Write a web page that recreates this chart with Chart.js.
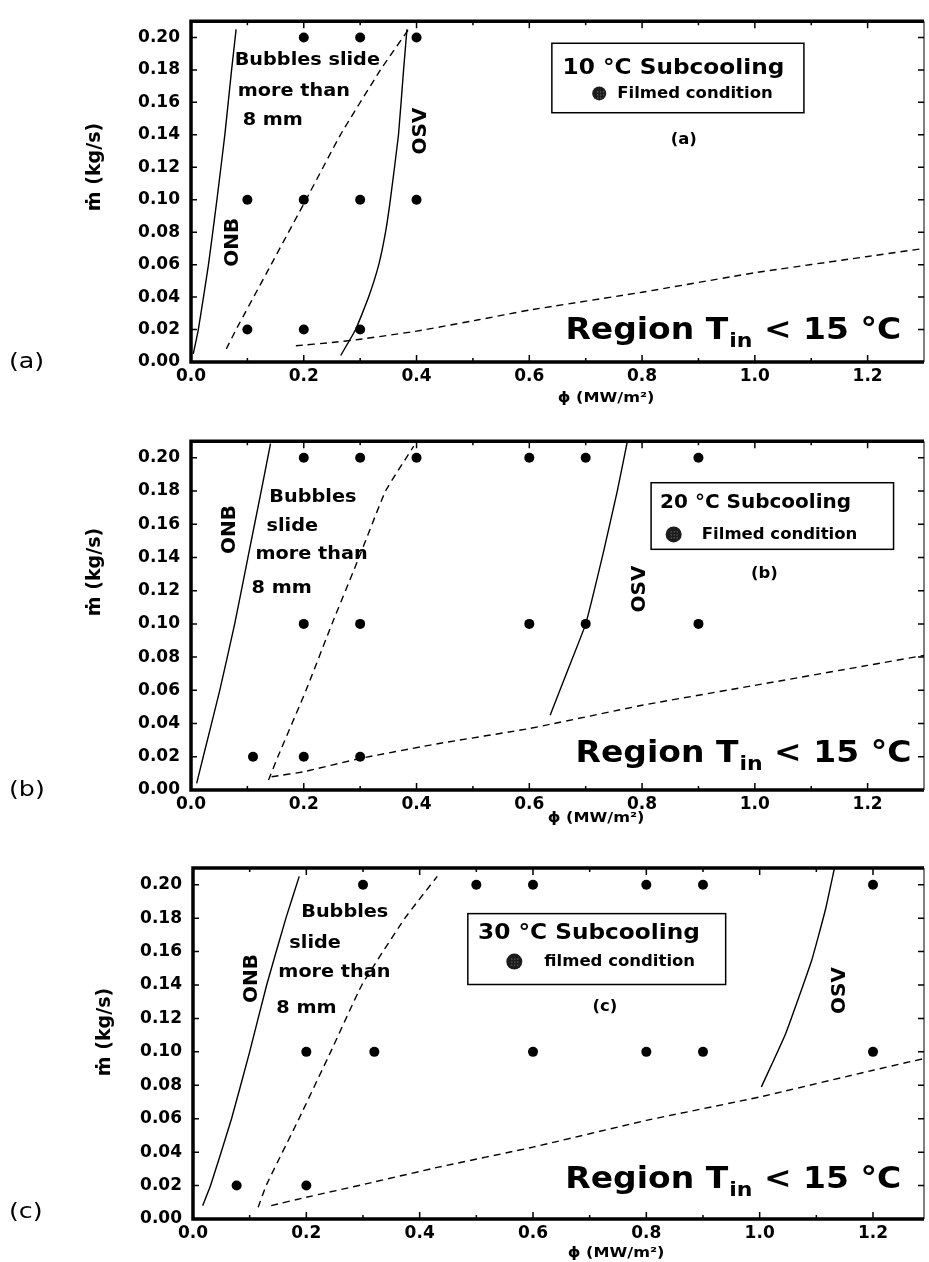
<!DOCTYPE html>
<html><head><meta charset="utf-8">
<script src="https://cdn.jsdelivr.net/npm/chart.js@4.4.1/dist/chart.umd.min.js"></script>
<style>
html,body{margin:0;padding:0;background:#fff;}
#page{position:relative;width:929px;height:1262px;overflow:hidden;background:#fff;}
.panel{position:absolute;left:0;width:929px;}
canvas{display:block;}
</style></head><body>
<div id="page">
<div class="panel" style="top:0;height:420px"><canvas id="chartA" width="929" height="420"></canvas></div>
<div class="panel" style="top:420px;height:420px"><canvas id="chartB" width="929" height="420"></canvas></div>
<div class="panel" style="top:840px;height:422px"><canvas id="chartC" width="929" height="422"></canvas></div>
</div>
<script>
// ---- tick labels ----
const xTickValues = [0.0, 0.2, 0.4, 0.6, 0.8, 1.0, 1.2];
const xMinorTickValues = [0.1, 0.3, 0.5, 0.7, 0.9, 1.1];
const yTickValues = [0.00, 0.02, 0.04, 0.06, 0.08, 0.10, 0.12, 0.14, 0.16, 0.18, 0.20];

// ---- panel (a): 10 °C subcooling ----
const aFilmedPhi = [0.2, 0.3, 0.4, 0.1, 0.2, 0.3, 0.4, 0.1, 0.2, 0.3];
const aFilmedM   = [0.20, 0.20, 0.20, 0.10, 0.10, 0.10, 0.10, 0.02, 0.02, 0.02];
const aOnbPhi    = [0.004, 0.013, 0.031, 0.046, 0.060, 0.072, 0.080];
const aOnbM      = [0.005, 0.020, 0.060, 0.100, 0.140, 0.180, 0.205];
const aSlidePhi  = [0.0625, 0.080, 0.142, 0.204, 0.265, 0.336, 0.386];
const aSlideM    = [0.008, 0.020, 0.060, 0.100, 0.140, 0.180, 0.205];
const aOsvPhi    = [0.2655, 0.292, 0.315, 0.333, 0.345, 0.3536, 0.368, 0.377, 0.383];
const aOsvM      = [0.004, 0.020, 0.040, 0.060, 0.080, 0.100, 0.140, 0.180, 0.205];
const aRegionPhi = [0.186, 0.25, 0.30, 0.40, 0.51, 0.6, 0.8, 1.0, 1.2, 1.3];
const aRegionM   = [0.010, 0.012, 0.014, 0.019, 0.026, 0.032, 0.043, 0.055, 0.065, 0.070];

// ---- panel (b): 20 °C subcooling ----
const bFilmedPhi = [0.2, 0.3, 0.4, 0.6, 0.7, 0.9, 0.2, 0.3, 0.6, 0.7, 0.9, 0.11, 0.2, 0.3];
const bFilmedM   = [0.20, 0.20, 0.20, 0.20, 0.20, 0.20, 0.10, 0.10, 0.10, 0.10, 0.10, 0.02, 0.02, 0.02];
const bOnbPhi    = [0.010, 0.0217, 0.051, 0.0775, 0.101, 0.1245, 0.141];
const bOnbM      = [0.004, 0.020, 0.060, 0.100, 0.140, 0.180, 0.2085];
const bSlidePhi  = [0.1375, 0.154, 0.204, 0.250, 0.298, 0.345, 0.395];
const bSlideM    = [0.006, 0.020, 0.060, 0.100, 0.140, 0.180, 0.207];
const bOsvPhi    = [0.637, 0.668, 0.700, 0.732, 0.756, 0.774];
const bOsvM      = [0.045, 0.072, 0.100, 0.144, 0.180, 0.210];
const bRegionPhi = [0.143, 0.2, 0.3, 0.44, 0.6, 0.8, 1.0, 1.2, 1.3];
const bRegionM   = [0.008, 0.011, 0.019, 0.028, 0.037, 0.051, 0.063, 0.075, 0.081];

// ---- panel (c): 30 °C subcooling ----
const cFilmedPhi = [0.3, 0.5, 0.6, 0.8, 0.9, 1.2, 0.2, 0.32, 0.6, 0.8, 0.9, 1.2, 0.077, 0.2];
const cFilmedM   = [0.20, 0.20, 0.20, 0.20, 0.20, 0.20, 0.10, 0.10, 0.10, 0.10, 0.10, 0.10, 0.02, 0.02];
const cOnbPhi    = [0.017, 0.031, 0.068, 0.100, 0.130, 0.164, 0.1875];
const cOnbM      = [0.008, 0.020, 0.060, 0.100, 0.140, 0.180, 0.205];
const cSlidePhi  = [0.115, 0.129, 0.187, 0.243, 0.298, 0.374, 0.431];
const cSlideM    = [0.007, 0.020, 0.060, 0.100, 0.140, 0.180, 0.205];
const cOsvPhi    = [1.003, 1.046, 1.092, 1.116, 1.132];
const cOsvM      = [0.079, 0.111, 0.155, 0.185, 0.210];
const cRegionPhi = [0.138, 0.2, 0.305, 0.433, 0.6, 0.8, 1.0, 1.2, 1.29];
const cRegionM   = [0.008, 0.013, 0.021, 0.031, 0.043, 0.059, 0.073, 0.089, 0.096];

const FONT = '"DejaVu Sans", "Liberation Sans", sans-serif';

function txt(ctx, s, x, y, o) {
  o = o || {};
  ctx.save();
  ctx.font = (o.weight || 'bold') + ' ' + (o.size || 16) + 'px ' + FONT;
  ctx.fillStyle = '#000';
  ctx.textBaseline = o.baseline || 'middle';
  ctx.textAlign = o.align || 'left';
  ctx.translate(x, y);
  if (o.rot) ctx.rotate(-Math.PI / 2);
  ctx.scale(o.sx || 1, 1);
  ctx.fillText(s, 0, 0);
  ctx.restore();
}
function textWidth(ctx, s, size, weight) {
  ctx.save();
  ctx.font = (weight || 'bold') + ' ' + size + 'px ' + FONT;
  const w = ctx.measureText(s).width;
  ctx.restore();
  return w;
}

function makeChart(id, p) {
  const pts = (xs, ys) => xs.map((x, i) => ({ x: x, y: ys[i] }));
  const line = (xs, ys, dashed) => ({
    data: pts(xs, ys), showLine: true, borderColor: '#000', borderWidth: 1.4,
    borderDash: dashed ? [7, 5] : [], pointRadius: 0, pointHoverRadius: 0,
    tension: 0.12, fill: false
  });
  const decor = {
    id: 'decor',
    afterDraw(chart) {
      const ctx = chart.ctx, ca = chart.chartArea, X = chart.scales.x, Y = chart.scales.y;
      ctx.save();
      ctx.strokeStyle = '#000';
      // ticks (inward)
      ctx.lineWidth = 1.5;
      ctx.beginPath();
      xTickValues.forEach(v => { if (v <= p.xMax) { const px = X.getPixelForValue(v);
        ctx.moveTo(px, ca.bottom); ctx.lineTo(px, ca.bottom - 7);
        ctx.moveTo(px, ca.top); ctx.lineTo(px, ca.top + 7); } });
      xMinorTickValues.forEach(v => { if (v <= p.xMax) { const px = X.getPixelForValue(v);
        ctx.moveTo(px, ca.bottom); ctx.lineTo(px, ca.bottom - 4);
        ctx.moveTo(px, ca.top); ctx.lineTo(px, ca.top + 4); } });
      yTickValues.forEach(v => { const py = Y.getPixelForValue(v);
        ctx.moveTo(ca.left, py); ctx.lineTo(ca.left + 6, py);
        ctx.moveTo(ca.right, py); ctx.lineTo(ca.right - 6, py); });
      ctx.stroke();
      // frame
      ctx.lineWidth = 3.5;
      ctx.beginPath();
      ctx.moveTo(ca.right, ca.top); ctx.lineTo(ca.left, ca.top); ctx.lineTo(ca.left, ca.bottom); ctx.lineTo(ca.right, ca.bottom);
      ctx.stroke();
      ctx.lineWidth = 1;
      ctx.beginPath(); ctx.moveTo(ca.right, ca.top); ctx.lineTo(ca.right, ca.bottom); ctx.stroke();

      // axis titles and panel label (outside plot)
      txt(ctx, 'ṁ (kg/s)', p.yTitle[0], p.yTitle[1], { size: 19, rot: true, align: 'center' });
      txt(ctx, 'ϕ (MW/m²)', p.xTitle[0], p.xTitle[1], { size: 14, align: 'center', sx: 1.15 });
      txt(ctx, p.sideLabel, 9, p.sideLabelY, { size: 22, weight: 'normal', sx: 1.15 });

      // annotations in data units
      p.texts.forEach(t => txt(ctx, t.t, X.getPixelForValue(t.x), Y.getPixelForValue(t.y),
        { size: t.size, rot: t.rot, align: t.align || 'left', sx: t.sx }));

      // legend box
      const b = p.box;
      ctx.lineWidth = 1.5;
      const bx1 = X.getPixelForValue(b.x1), bx2 = X.getPixelForValue(b.x2);
      const by1 = Y.getPixelForValue(b.y1), by2 = Y.getPixelForValue(b.y2);
      ctx.strokeRect(bx1, by1, bx2 - bx1, by2 - by1);
      txt(ctx, b.title, X.getPixelForValue(b.titleX), Y.getPixelForValue(b.titleY), { size: b.titleSize, sx: b.titleSx });
      const mx = X.getPixelForValue(b.markX), my = Y.getPixelForValue(b.markY);
      ctx.fillStyle = '#1c1c1c';
      ctx.beginPath(); ctx.arc(mx, my, b.markR, 0, Math.PI * 2); ctx.fill();
      ctx.fillStyle = '#8a8a8a';
      for (let dx = -b.markR + 2; dx <= b.markR - 2; dx += 3)
        for (let dy = -b.markR + 2; dy <= b.markR - 2; dy += 3)
          if (dx * dx + dy * dy < (b.markR - 2) * (b.markR - 2)) ctx.fillRect(mx + dx, my + dy, 1, 1);
      txt(ctx, b.label, X.getPixelForValue(b.labelX), my, { size: 16.5 });

      // region label
      const r = p.region;
      let rx = X.getPixelForValue(r.x); const ry = Y.getPixelForValue(r.y);
      const big = 30, sub = 20, sx = 1.1;
      txt(ctx, 'Region T', rx, ry, { size: big, baseline: 'alphabetic', sx: sx });
      rx += textWidth(ctx, 'Region T', big) * sx + 1;
      txt(ctx, 'in', rx, ry + 8, { size: sub, baseline: 'alphabetic', sx: sx });
      rx += textWidth(ctx, 'in', sub) * sx;
      txt(ctx, ' < 15 °C', rx, ry, { size: big, baseline: 'alphabetic', sx: sx });
      ctx.restore();
    }
  };
  return new Chart(document.getElementById(id), {
    type: 'scatter',
    data: { datasets: [
      line(p.onb[0], p.onb[1], false),
      line(p.slide[0], p.slide[1], true),
      line(p.osv[0], p.osv[1], false),
      line(p.region[0], p.region[1], true),
      { data: pts(p.filmed[0], p.filmed[1]), showLine: false, pointRadius: 5, pointHoverRadius: 5,
        backgroundColor: '#000', borderColor: '#000', borderWidth: 0 }
    ] },
    options: {
      responsive: false, animation: false, devicePixelRatio: 1,
      layout: { padding: { top: p.top, right: 929 - p.right, left: 0, bottom: 0 } },
      plugins: { legend: { display: false }, tooltip: { enabled: false } },
      events: [],
      scales: {
        x: { type: 'linear', min: 0, max: p.xMax,
          grid: { display: false, drawTicks: false }, border: { display: false },
          afterBuildTicks: s => { s.ticks = xTickValues.filter(v => v <= p.xMax).map(v => ({ value: v })); },
          afterFit: s => { s.height = p.H - p.bottom; },
          ticks: { callback: v => Number(v).toFixed(1), font: { family: FONT, size: 17, weight: 'bold' },
            color: '#000', padding: 4, maxRotation: 0, autoSkip: false } },
        y: { type: 'linear', min: 0, max: 0.21,
          grid: { display: false, drawTicks: false }, border: { display: false },
          afterBuildTicks: s => { s.ticks = yTickValues.map(v => ({ value: v })); },
          afterFit: s => { s.width = p.left; },
          ticks: { callback: v => Number(v).toFixed(2), font: { family: FONT, size: 17, weight: 'bold' },
            color: '#000', padding: 11, autoSkip: false } }
      }
    },
    plugins: [decor]
  });
}

const regionA = [aRegionPhi, aRegionM]; regionA.x = 0.664; regionA.y = 0.0143;
const regionB = [bRegionPhi, bRegionM]; regionB.x = 0.682; regionB.y = 0.0168;
const regionC = [cRegionPhi, cRegionM]; regionC.x = 0.657; regionC.y = 0.0185;

makeChart('chartA', {
  H: 420, top: 10, bottom: 362, left: 191, right: 928, xMax: 1.3,
  filmed: [aFilmedPhi, aFilmedM], onb: [aOnbPhi, aOnbM], slide: [aSlidePhi, aSlideM],
  osv: [aOsvPhi, aOsvM], region: regionA,
  yTitle: [95, 167], xTitle: [606, 398], sideLabel: '(a)', sideLabelY: 362,
  texts: [
    { t: 'Bubbles slide', x: 0.0775, y: 0.1857, size: 17.5, sx: 1.1 },
    { t: 'more than', x: 0.083, y: 0.1667, size: 17.5, sx: 1.1 },
    { t: '8 mm', x: 0.0916, y: 0.1488, size: 17.5, sx: 1.1 },
    { t: 'ONB', x: 0.074, y: 0.0738, size: 20, rot: true, align: 'center' },
    { t: 'OSV', x: 0.407, y: 0.1423, size: 20, rot: true, align: 'center' },
    { t: '(a)', x: 0.874, y: 0.1369, size: 15, align: 'center', sx: 1.1 }
  ],
  box: { x1: 0.64, x2: 1.087, y1: 0.1964, y2: 0.1536, title: '10 °C Subcooling', titleX: 0.659, titleY: 0.181,
    titleSize: 21.5, titleSx: 1.08, markX: 0.724, markY: 0.1655, markR: 7, label: 'Filmed condition', labelX: 0.756 }
});

makeChart('chartB', {
  H: 420, top: 18, bottom: 370, left: 191, right: 928, xMax: 1.3,
  filmed: [bFilmedPhi, bFilmedM], onb: [bOnbPhi, bOnbM], slide: [bSlidePhi, bSlideM],
  osv: [bOsvPhi, bOsvM], region: regionB,
  yTitle: [95, 152], xTitle: [596, 398], sideLabel: '(b)', sideLabelY: 370,
  texts: [
    { t: 'Bubbles', x: 0.139, y: 0.176, size: 17.5, sx: 1.1 },
    { t: 'slide', x: 0.134, y: 0.1587, size: 17.5, sx: 1.1 },
    { t: 'more than', x: 0.1145, y: 0.1419, size: 17.5, sx: 1.1 },
    { t: '8 mm', x: 0.1075, y: 0.1216, size: 17.5, sx: 1.1 },
    { t: 'ONB', x: 0.0687, y: 0.1569, size: 20, rot: true, align: 'center' },
    { t: 'OSV', x: 0.796, y: 0.121, size: 20, rot: true, align: 'center' },
    { t: '(b)', x: 1.017, y: 0.13, size: 15, align: 'center', sx: 1.1 }
  ],
  box: { x1: 0.816, x2: 1.246, y1: 0.185, y2: 0.1449, title: '20 °C Subcooling', titleX: 0.832, titleY: 0.173,
    titleSize: 20, titleSx: 1.0, markX: 0.856, markY: 0.1539, markR: 8, label: 'Filmed condition', labelX: 0.906 }
});

makeChart('chartC', {
  H: 422, top: 28, bottom: 379, left: 193, right: 928, xMax: 1.29,
  filmed: [cFilmedPhi, cFilmedM], onb: [cOnbPhi, cOnbM], slide: [cSlidePhi, cSlideM],
  osv: [cOsvPhi, cOsvM], region: regionC,
  yTitle: [105, 192], xTitle: [616, 413], sideLabel: '(c)', sideLabelY: 372,
  texts: [
    { t: 'Bubbles', x: 0.191, y: 0.1833, size: 17.5, sx: 1.1 },
    { t: 'slide', x: 0.17, y: 0.1648, size: 17.5, sx: 1.1 },
    { t: 'more than', x: 0.1506, y: 0.1475, size: 17.5, sx: 1.1 },
    { t: '8 mm', x: 0.147, y: 0.126, size: 17.5, sx: 1.1 },
    { t: 'ONB', x: 0.1033, y: 0.1439, size: 20, rot: true, align: 'center' },
    { t: 'OSV', x: 1.142, y: 0.1367, size: 20, rot: true, align: 'center' },
    { t: '(c)', x: 0.727, y: 0.1266, size: 15, align: 'center', sx: 1.1 }
  ],
  box: { x1: 0.485, x2: 0.94, y1: 0.1827, y2: 0.1403, title: '30 °C Subcooling', titleX: 0.503, titleY: 0.1707,
    titleSize: 21.5, titleSx: 1.08, markX: 0.567, markY: 0.154, markR: 8, label: 'filmed condition', labelX: 0.62 }
});
</script>
</body></html>
